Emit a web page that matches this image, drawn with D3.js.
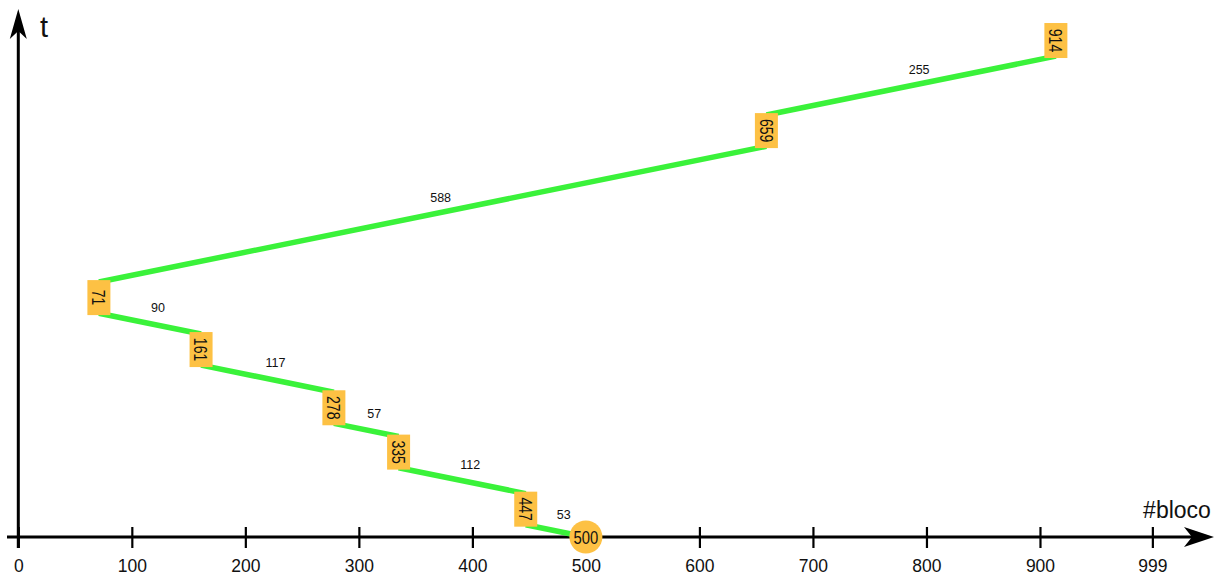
<!DOCTYPE html>
<html>
<head>
<meta charset="utf-8">
<script src="https://cdn.jsdelivr.net/npm/d3@7"></script>
<style>
  html, body { margin: 0; padding: 0; background: #fff; }
  svg { display: block; font-family: "Liberation Sans", Arial, sans-serif; }
</style>
</head>
<body>
<svg id="chart" width="1221" height="575"></svg>
<script>
// ---- data ----
const blocks = [500, 447, 335, 278, 161, 71, 659, 914];   // service order
const seekLabels = [53, 112, 57, 117, 90, 588, 255];        // distance between consecutive blocks
const xTickValues = [0, 100, 200, 300, 400, 500, 600, 700, 800, 900, 999];
const xTickLabels = ["0", "100", "200", "300", "400", "500", "600", "700", "800", "900", "999"];
const xAxisTitle = "#bloco";
const yAxisTitle = "t";
const serviceTime = 135; // time units a request stays in its box

// ---- layout ----
const svg = d3.select("#chart");
const axisY = 537, axisX = 18.3;
const x = d3.scaleLinear().domain([0, 999]).range([18.3, 18.3 + 999 * 1.1352]);
const y = d3.scaleLinear().domain([0, 2286]).range([axisY, 9]);

const GREEN = "#3af23a", ORANGE = "#fdc144";

// compute time intervals for each block
const nodes = [];
let t = 0;
blocks.forEach((b, i) => {
  if (i === 0) { nodes.push({ b, t0: 0, t1: 0, first: true }); return; }
  t += seekLabels[i - 1];
  const t0 = t;
  t += serviceTime;
  nodes.push({ b, t0, t1: t });
});

// ---- axes ----
const ax = svg.append("g");
ax.append("line").attr("x1", 7).attr("x2", 1200).attr("y1", axisY).attr("y2", axisY)
  .attr("stroke", "#000").attr("stroke-width", 3);
ax.append("path")
  .attr("d", `M1214,${axisY} L1184,${axisY - 10} L1192,${axisY} L1184,${axisY + 10} Z`)
  .attr("fill", "#000");
ax.append("line").attr("x1", axisX).attr("x2", axisX).attr("y1", 548).attr("y2", 25)
  .attr("stroke", "#000").attr("stroke-width", 3);
ax.append("path")
  .attr("d", `M${axisX},9 L${axisX - 8.5},39 L${axisX},31 L${axisX + 8.5},39 Z`)
  .attr("fill", "#000");

const xAxis = d3.axisBottom(x).tickValues(xTickValues)
  .tickFormat((d, i) => xTickLabels[i]).tickSize(0).tickPadding(0);
const gx = svg.append("g").attr("transform", `translate(0,${axisY})`).call(xAxis);
gx.select(".domain").remove();
gx.selectAll(".tick line").attr("y1", -10).attr("y2", 11)
  .attr("stroke", "#000").attr("stroke-width", 2.2);
gx.selectAll(".tick text").attr("y", 35).attr("dy", null)
  .attr("font-size", 17.5).attr("fill", "#111")
  .attr("font-family", "'Liberation Sans', Arial, sans-serif");

svg.append("text").attr("x", 1177).attr("y", 518).attr("text-anchor", "middle")
  .attr("font-size", 23).attr("fill", "#111").text(xAxisTitle);
svg.append("text").attr("x", 40).attr("y", 37)
  .attr("font-size", 29).attr("fill", "#111").text(yAxisTitle);

// ---- segments ----
const segs = [];
for (let i = 1; i < nodes.length; i++) {
  segs.push({ from: nodes[i - 1], to: nodes[i], label: seekLabels[i - 1] });
}
const gs = svg.append("g");
gs.selectAll("line").data(segs).join("line")
  .attr("x1", d => x(d.from.b)).attr("y1", d => y(d.from.t1))
  .attr("x2", d => x(d.to.b)).attr("y2", d => y(d.to.t0))
  .attr("stroke", GREEN).attr("stroke-width", 5.5);
gs.selectAll("text").data(segs).join("text")
  .attr("x", d => (x(d.from.b) + x(d.to.b)) / 2 + 8)
  .attr("y", d => (y(d.from.t1) + y(d.to.t0)) / 2 - 12)
  .attr("text-anchor", "middle").attr("font-size", 12.5).attr("fill", "#111")
  .text(d => d.label);

// ---- nodes ----
const gn = svg.append("g");
const boxW = 23, boxH = 35;
nodes.forEach(n => {
  const cx = x(n.b);
  const cy = (y(n.t0) + y(n.t1)) / 2;
  if (n.first) {
    gn.append("circle").attr("cx", cx).attr("cy", cy).attr("r", 16.5).attr("fill", ORANGE);
    gn.append("text").attr("transform", `translate(${cx},${cy}) scale(0.78,1)`)
      .attr("text-anchor", "middle").attr("dy", "0.36em")
      .attr("font-size", 19).attr("fill", "#111").text(n.b);
  } else {
    gn.append("rect").attr("x", cx - boxW / 2).attr("y", cy - boxH / 2)
      .attr("width", boxW).attr("height", boxH).attr("fill", ORANGE);
    gn.append("text").attr("transform", `translate(${cx},${cy}) rotate(90) scale(0.74,1)`)
      .attr("text-anchor", "middle").attr("dy", "0.36em")
      .attr("font-size", 19).attr("fill", "#111").text(n.b);
  }
});
</script>
</body>
</html>
